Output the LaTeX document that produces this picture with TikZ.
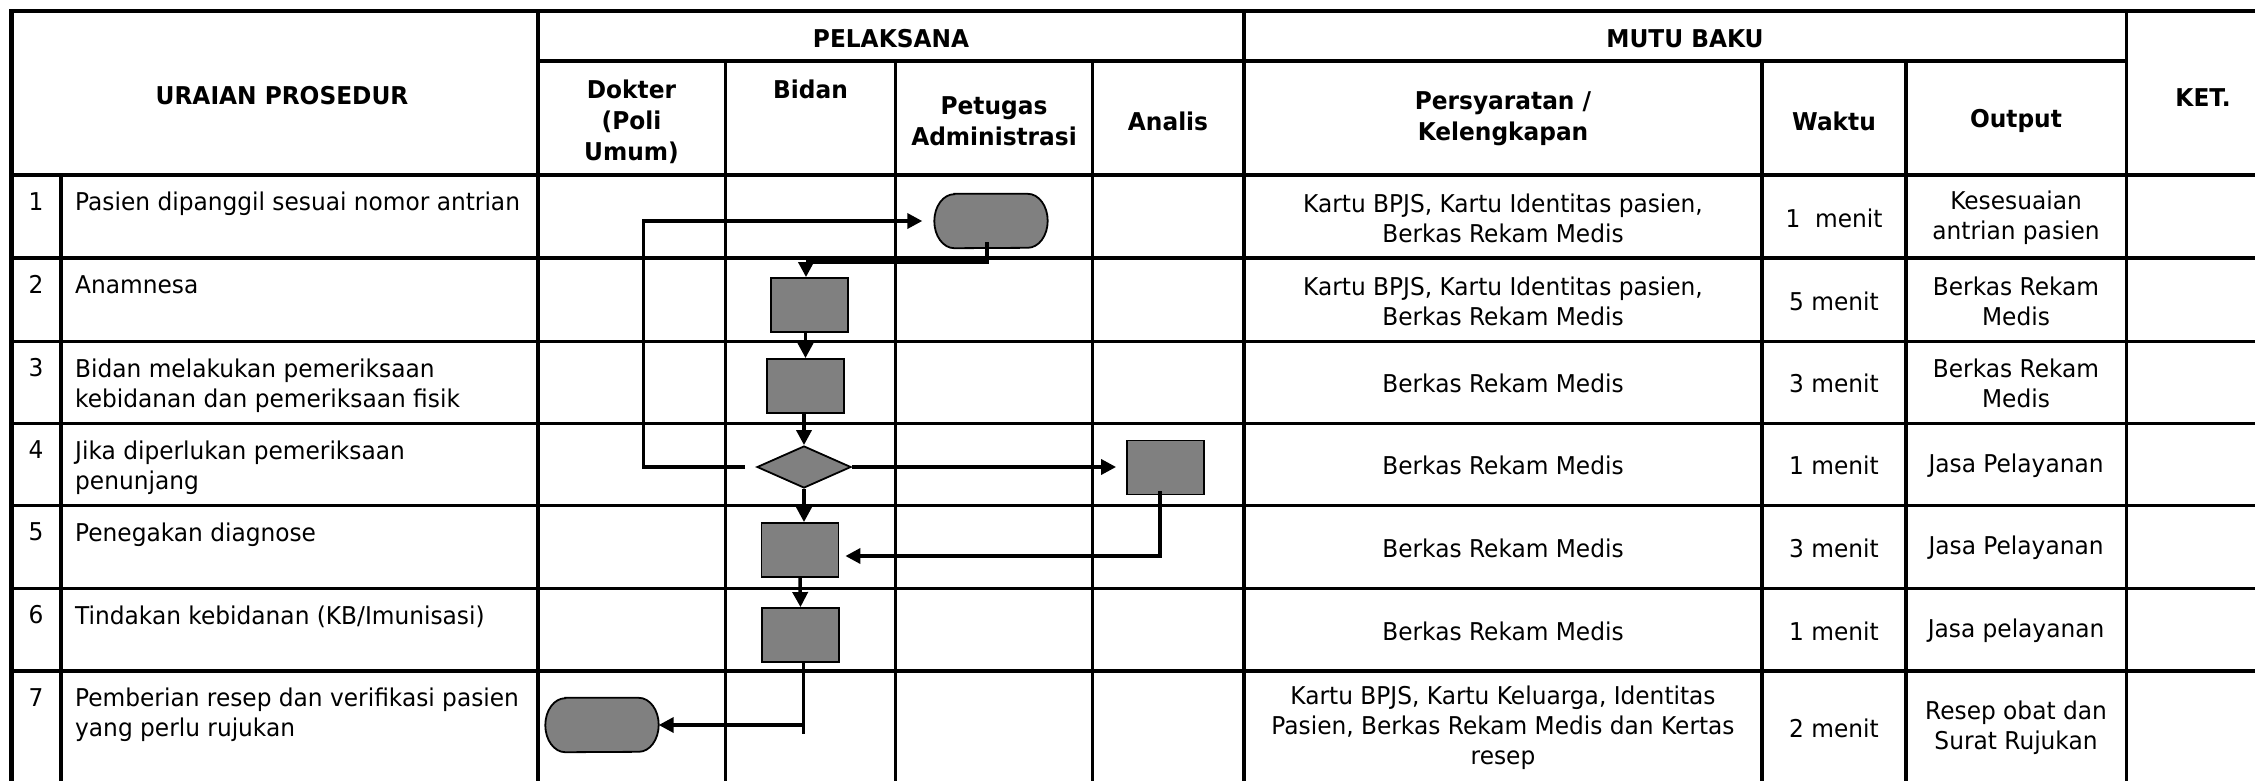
\documentclass[tikz,border=0pt]{standalone}
\usepackage{fontspec}
\setmainfont{DejaVu Sans}[FakeStretch=0.95]
\usetikzlibrary{arrows.meta,shapes.geometric}
\definecolor{boxgray}{HTML}{808080}
\newcommand{\cellfont}{\fontsize{24.5}{30}\selectfont}
\newcommand{\headfont}{\fontsize{24.5}{31}\selectfont\bfseries}
\tikzset{
  gridline/.style={line width=3.4pt},
  outerline/.style={line width=4.2pt},
  cell/.style={align=center, inner sep=0pt, font=\cellfont},
  headcell/.style={align=center, inner sep=0pt, font=\headfont},
  lefttext/.style={align=left, inner sep=0pt, font=\cellfont, anchor=north west},
  numtext/.style={inner sep=0pt, font=\cellfont, anchor=north},
  procbox/.style={draw, line width=1.8pt, fill=boxgray, minimum width=77pt, minimum height=54pt, inner sep=0pt},
  decision/.style={diamond, draw, line width=1.8pt, fill=boxgray, minimum width=94pt, minimum height=42pt, inner sep=0pt},
  termnode/.style={minimum width=113pt, minimum height=54pt, inner sep=0pt},
  termshape/.style={draw, line width=1.8pt, fill=boxgray},
  conn/.style={line width=3.5pt},
  arr/.style={conn, -{Triangle[length=15pt,width=15pt]}},
}
\begin{document}
\begin{tikzpicture}[x=1pt,y=-1pt]
\useasboundingbox (0,0) rectangle (2255,780);
\clip (0,0) rectangle (2255,780);

% ---------- grid ----------
\draw[outerline] (9.5,11) -- (2260,11);
\draw[outerline] (11.5,9) -- (11.5,800);
\draw[gridline] (11.5,175) -- (2260,175);
\foreach \yy in {258,341.5,423.5,505.5,588.5,671}{\draw[gridline] (11.5,\yy) -- (2260,\yy);}
\draw[gridline] (538,61) -- (2126.5,61);
\draw[gridline] (61,175) -- (61,800);
\foreach \xx in {538,1244,2126.5}{\draw[gridline] (\xx,11) -- (\xx,800);}
\foreach \xx in {725.5,895.5,1092.5,1762,1906}{\draw[gridline] (\xx,61) -- (\xx,800);}

% ---------- header ----------
\node[headcell] (hUraian) at (282,96) {URAIAN PROSEDUR};
\node[headcell] (hPel) at (891,39) {PELAKSANA};
\node[headcell] (hMutu) at (1685,39) {MUTU BAKU};
\node[headcell, anchor=north] (hDok) at (631.5,80) {Dokter\\(Poli\\Umum)};
\node[headcell, anchor=north] (hBid) at (810.5,80) {Bidan};
\node[headcell] (hPet) at (994,121) {Petugas\\Administrasi};
\node[headcell] (hAna) at (1168,121) {Analis};
\node[headcell] (hPer) at (1503,119) {Persyaratan /\\Kelengkapan};
\node[headcell] (hWak) at (1834,121) {Waktu};
\node[headcell] (hOut) at (2016,121) {Output};
\node[headcell] (hKet) at (2203,98) {KET.};

% ---------- left columns ----------
\node[numtext] (n1) at (36,192) {1};
\node[numtext] (n2) at (36,275) {2};
\node[numtext] (n3) at (36,358.5) {3};
\node[numtext] (n4) at (36,440.5) {4};
\node[numtext] (n5) at (36,522.5) {5};
\node[numtext] (n6) at (36,605.5) {6};
\node[numtext] (n7) at (36,688) {7};
\node[lefttext] (u1) at (75,192) {Pasien dipanggil sesuai nomor antrian};
\node[lefttext] (u2) at (75,275) {Anamnesa};
\node[lefttext] (u3) at (75,358.5) {Bidan melakukan pemeriksaan\\kebidanan dan pemeriksaan fisik};
\node[lefttext] (u4) at (75,440.5) {Jika diperlukan pemeriksaan\\penunjang};
\node[lefttext] (u5) at (75,522.5) {Penegakan diagnose};
\node[lefttext] (u6) at (75,605.5) {Tindakan kebidanan (KB/Imunisasi)};
\node[lefttext] (u7) at (75,688) {Pemberian resep dan verifikasi pasien\\yang perlu rujukan};

% ---------- right columns ----------
\node[cell] (p1) at (1503,218) {Kartu BPJS, Kartu Identitas pasien,\\Berkas Rekam Medis};
\node[cell] (p2) at (1503,301) {Kartu BPJS, Kartu Identitas pasien,\\Berkas Rekam Medis};
\node[cell] (p3) at (1503,383.5) {Berkas Rekam Medis};
\node[cell] (p4) at (1503,465.5) {Berkas Rekam Medis};
\node[cell] (p5) at (1503,548) {Berkas Rekam Medis};
\node[cell] (p6) at (1503,631) {Berkas Rekam Medis};
\node[cell] (p7) at (1503,728) {Kartu BPJS, Kartu Keluarga, Identitas\\Pasien, Berkas Rekam Medis dan Kertas\\resep};
\node[cell] (w1) at (1834,218) {1\ \ menit};
\node[cell] (w2) at (1834,301) {5 menit};
\node[cell] (w3) at (1834,383.5) {3 menit};
\node[cell] (w4) at (1834,465.5) {1 menit};
\node[cell] (w5) at (1834,548) {3 menit};
\node[cell] (w6) at (1834,631) {1 menit};
\node[cell] (w7) at (1834,728) {2 menit};
\node[cell] (o1) at (2016,218) {Kesesuaian\\antrian pasien};
\node[cell] (o2) at (2016,301) {Berkas Rekam\\Medis};
\node[cell] (o3) at (2016,383.5) {Berkas Rekam\\Medis};
\node[cell] (o4) at (2016,465.5) {Jasa Pelayanan};
\node[cell] (o5) at (2016,548) {Jasa Pelayanan};
\node[cell] (o6) at (2016,631) {Jasa pelayanan};
\node[cell] (o7) at (2016,728) {Resep obat dan\\Surat Rujukan};

% ---------- flowchart shapes ----------
\node[termnode] (T1) at (991,221) {};
\draw[termshape] ([xshift=20pt]T1.north west) -- ([xshift=-20pt]T1.north east)
  arc[start angle=90,end angle=-90,x radius=20pt,y radius=27pt]
  -- ([xshift=20pt]T1.south west)
  arc[start angle=270,end angle=90,x radius=20pt,y radius=27pt] -- cycle;
\node[procbox] (B2) at (809.5,305) {};
\node[procbox] (B3) at (805.5,386) {};
\node[decision] (D4) at (804,467) {};
\node[procbox] (A4) at (1165.5,467.5) {};
\node[procbox] (B5) at (800,550) {};
\node[procbox] (B6) at (800.5,635) {};
\node[termnode] (T7) at (602,725) {};
\draw[termshape] ([xshift=20pt]T7.north west) -- ([xshift=-20pt]T7.north east)
  arc[start angle=90,end angle=-90,x radius=20pt,y radius=27pt]
  -- ([xshift=20pt]T7.south west)
  arc[start angle=270,end angle=90,x radius=20pt,y radius=27pt] -- cycle;

% ---------- connectors ----------
\coordinate (loopx) at (643.5,467);
\coordinate (j1) at (806,262);
\coordinate (j7) at (803.5,725);
\draw[arr, shorten <=11pt, shorten >=12pt] (D4.west) -- (loopx) |- (T1.west);
\draw[conn] ([xshift=-4pt,yshift=6pt]T1.south) |- (j1);
\draw[arr] (j1) -- (j1 |- B2.north);
\draw[arr] (B3.north |- B2.south) -- (B3.north);
\draw[arr] (D4.north |- B3.south) -- (D4.north);
\draw[arr, shorten >=10pt] (D4.east) -- (D4.east -| A4.west);
\draw[arr] (D4.south) -- (D4.south |- B5.north);
\draw[arr, shorten >=6pt] ([xshift=-5.5pt,yshift=4pt]A4.south) |- ([yshift=-6pt]B5.east);
\draw[arr] (B5.south) -- (B6.north);
\draw[conn] (B6.south -| j7) -- ([yshift=-9pt]j7);
\draw[arr] (j7) -- (T7.east);
\end{tikzpicture}
\end{document}
